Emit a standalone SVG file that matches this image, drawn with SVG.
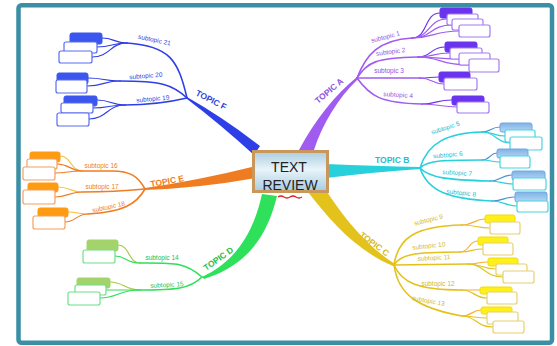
<svg xmlns="http://www.w3.org/2000/svg" width="557" height="346" viewBox="0 0 557 346">
<defs>
<linearGradient id="cg" x1="0" y1="0" x2="0" y2="1">
<stop offset="0" stop-color="#a9cde0"/><stop offset="0.45" stop-color="#e9f4fa"/><stop offset="1" stop-color="#a6cbe0"/>
</linearGradient>
<linearGradient id="bg" x1="0" y1="0" x2="0" y2="1">
<stop offset="0" stop-color="#7fb2e6"/><stop offset="1" stop-color="#b8d8f4"/>
</linearGradient>
</defs>
<style>
.sl{fill:none;stroke-width:1.6;stroke-linecap:round}
.fl{fill:none;stroke-width:1.2;stroke-linecap:round}
.w{fill:#fff;stroke-width:1.2}
.lab{font-family:"Liberation Sans",Arial,sans-serif;font-size:6.5px;text-anchor:middle}
.top{font-family:"Liberation Sans",Arial,sans-serif;font-size:8.5px;font-weight:bold}
.F{stroke:#2f3fe8}.E{stroke:#f07c22}.D{stroke:#2ee05a}.A{stroke:#a05cf0}.B{stroke:#28d0dc}.C{stroke:#e3c21c}
.Fd{stroke:#2a3be0}.Ey{stroke:#f2c03a}.Do{stroke:#a8c84a}.Ad{stroke:#6a34ee}.Bd{stroke:#4a90d0}.Co{stroke:#f5b030}
.tF{fill:#3344dd}.tE{fill:#f07c22}.tD{fill:#22c04a}.tA{fill:#9050e0}.tB{fill:#20c0d0}.tC{fill:#d8b820}
.fF{fill:#3b56ef;stroke:#3b56ef}.fE{fill:#ff9b12;stroke:#ff9b12}.fD{fill:#a3d36b;stroke:#a3d36b}
.fA{fill:#6a34ee;stroke:#6a34ee}.fB{fill:url(#bg);stroke:#6fa8e0}.fC{fill:#fff01a;stroke:#f0dc10}
.wF{stroke:#5a6cf0}.wE{stroke:#f3a060}.wD{stroke:#6fe08a}.wA{stroke:#a47af0}.wB{stroke:#4ad4e0}.wC{stroke:#e8d070}
</style>
<rect x="0" y="0" width="557" height="346" fill="#fff"/>
<rect x="18.5" y="5.2" width="533.5" height="337.5" rx="3" fill="#fff" stroke="#3a8fa4" stroke-width="4.5"/>

<g id="connectors">
<!-- thick topic branches -->
<path d="M187,97 Q224,118 260,146 L254,155 Q220,124 187,99 Z" fill="#2f3fe8"/>
<path d="M145,188 Q200,180 256,166 L256,178 Q200,188 145,190 Z" fill="#f07c22"/>
<path d="M202,277 C230,264 252,240 262,194 L277,196 C266,242 242,267 204,279 Z" fill="#2ee05a"/>
<path d="M357,77 C335,95 315,120 299,150 L314,150 C322,125 338,98 358,79 Z" fill="#a05cf0"/>
<path d="M420,167 Q375,166 326,164 L326,178 Q375,172 420,169 Z" fill="#28d0dc"/>
<path d="M308,192 C330,220 355,250 393,266 L395,264 C365,245 342,215 325,189 Z" fill="#e3c21c"/>
<!-- F subtopics -->
<path class="sl F" d="M187,98 C178,60 170,46 127,43"/>
<path class="sl F" d="M187,98 C172,84 160,81 120,81"/>
<path class="sl F" d="M187,98 C170,102 150,105 125,105"/>
<path class="fl Fd" d="M127,43 C114,43 114,38 102,38"/>
<path class="fl F" d="M127,43 C112,43 112,47 97,47"/>
<path class="fl F" d="M127,43 C110,43 110,57 92,57"/>
<path class="fl Fd" d="M120,81 C104,81 104,78 88,78"/>
<path class="fl F" d="M120,81 C104,81 104,86 87,86"/>
<path class="fl Fd" d="M125,105 C111,105 111,100 97,100"/>
<path class="fl F" d="M125,105 C109,105 109,108 93,108"/>
<path class="fl F" d="M125,105 C107,105 107,119 89,119"/>
<!-- E subtopics -->
<path class="sl E" d="M145,189 C138,176 130,171 112,171 L82,171"/>
<path class="sl E" d="M145,189 C125,191 105,192 82,192"/>
<path class="sl E" d="M145,189 C136,205 122,212 88,214"/>
<path class="fl Ey" d="M82,171 C71,171 71,156 60,156"/>
<path class="fl E" d="M82,171 C70,171 70,164 57,164"/>
<path class="fl E" d="M82,171 C68,171 68,173 55,173"/>
<path class="fl Ey" d="M82,192 C70,192 70,187 58,187"/>
<path class="fl E" d="M82,192 C68,192 68,197 55,197"/>
<path class="fl Ey" d="M88,214 C78,214 78,212 68,212"/>
<path class="fl E" d="M88,214 C76,214 76,222 65,222"/>
<!-- D subtopics -->
<path class="sl D" d="M202,277 C185,262 175,263 140,263"/>
<path class="sl D" d="M202,277 C190,289 175,290 140,290"/>
<path class="fl Do" d="M140,263 C128,263 130,245 118,245"/>
<path class="fl D" d="M140,263 C126,263 126,256 115,256"/>
<path class="fl Do" d="M140,290 C124,290 124,282 110,282"/>
<path class="fl D" d="M140,290 C122,290 122,290 106,290"/>
<path class="fl D" d="M140,290 C118,290 118,298 100,298"/>
<!-- A subtopics -->
<path class="sl A" d="M357,78 C366,55 378,40 412,38"/>
<path class="sl A" d="M357,78 C368,62 375,58 418,57"/>
<path class="sl A" d="M357,78 L420,78"/>
<path class="sl A" d="M357,78 C370,96 380,103 422,104"/>
<path class="fl Ad" d="M412,38 C428,38 424,13 440,13"/>
<path class="fl A" d="M412,38 C430,38 428,19 447,19"/>
<path class="fl A" d="M412,38 C432,38 430,25 452,25"/>
<path class="fl A" d="M412,38 C434,38 434,31 459,31"/>
<path class="fl Ad" d="M418,57 C432,57 430,47 445,47"/>
<path class="fl A" d="M418,57 C434,57 432,53 450,53"/>
<path class="fl A" d="M418,57 C436,57 436,59 459,59"/>
<path class="fl A" d="M418,57 C440,57 440,65 469,65"/>
<path class="fl Ad" d="M420,78 C430,78 430,77 439,77"/>
<path class="fl A" d="M420,78 C432,78 432,84 444,84"/>
<path class="fl Ad" d="M422,104 C436,104 436,100 452,100"/>
<path class="fl A" d="M422,104 C440,104 440,107 457,107"/>
<!-- B subtopics -->
<path class="sl B" d="M420,168 C428,142 448,133 482,132"/>
<path class="sl B" d="M420,168 C428,160 445,160 482,160"/>
<path class="sl B" d="M420,168 C430,178 448,180 490,181"/>
<path class="sl B" d="M420,168 C428,192 450,199 492,201"/>
<path class="fl Bd" d="M482,132 C491,132 491,127 500,127"/>
<path class="fl B" d="M482,132 C494,132 494,136 505,136"/>
<path class="fl B" d="M482,132 C496,132 496,143 510,143"/>
<path class="fl Bd" d="M482,160 C490,160 490,153 497,153"/>
<path class="fl B" d="M482,160 C491,160 491,162 500,162"/>
<path class="fl Bd" d="M490,181 C501,181 501,175 512,175"/>
<path class="fl B" d="M490,181 C502,181 502,184 513,184"/>
<path class="fl Bd" d="M492,201 C504,201 504,197 515,197"/>
<path class="fl B" d="M492,201 C505,201 505,206 517,206"/>
<!-- C subtopics -->
<path class="sl C" d="M394,265 C398,238 415,226 462,225"/>
<path class="sl C" d="M394,265 C400,255 412,252 460,252"/>
<path class="sl C" d="M394,265 L468,264"/>
<path class="sl C" d="M394,265 C402,283 418,290 462,290"/>
<path class="sl C" d="M394,265 C398,295 418,308 462,316"/>
<path class="fl Co" d="M462,225 C474,225 474,219 485,219"/>
<path class="fl C" d="M462,225 C476,225 476,228 490,228"/>
<path class="fl Co" d="M460,252 C470,252 468,241 478,241"/>
<path class="fl C" d="M460,252 C472,252 472,249 483,249"/>
<path class="fl Co" d="M468,264 C478,264 478,262 488,262"/>
<path class="fl C" d="M468,264 C482,264 482,269 496,269"/>
<path class="fl C" d="M468,264 C484,264 484,277 503,277"/>
<path class="fl Co" d="M462,290 C471,290 471,290 480,290"/>
<path class="fl C" d="M462,290 C474,290 474,298 487,298"/>
<path class="fl Co" d="M462,316 C472,316 472,310 481,310"/>
<path class="fl C" d="M462,316 C474,316 474,318 487,318"/>
<path class="fl C" d="M462,316 C476,316 476,327 493,327"/>
</g>

<g id="center">
<rect x="253.5" y="151.5" width="74" height="40" fill="url(#cg)" stroke="#c8975c" stroke-width="3"/>
<text x="289" y="172" font-family="Liberation Sans,Arial,sans-serif" font-size="14" text-anchor="middle" fill="#222">TEXT</text>
<text x="290" y="190" font-family="Liberation Sans,Arial,sans-serif" font-size="14" text-anchor="middle" fill="#222">REVIEW</text>
<path d="M278,197 q3,-2 6,0 t6,0 t6,0 t6,0" fill="none" stroke="#e02020" stroke-width="1.3"/>
</g>

<g id="topic-f"><text class="top tF" transform="translate(195,95) rotate(27)">TOPIC F</text></g>
<g id="topic-e"><text class="top tE" transform="translate(151,187) rotate(-10)">TOPIC E</text></g>
<g id="topic-d"><text class="top tD" transform="translate(206,271) rotate(-35)">TOPIC D</text></g>
<g id="topic-a"><text class="top tA" transform="translate(318,104) rotate(-40)">TOPIC A</text></g>
<g id="topic-b"><text class="top tB" transform="translate(375,163)">TOPIC B</text></g>
<g id="topic-c"><text class="top tC" transform="translate(359,236) rotate(37)">TOPIC C</text></g>

<g id="sub-21"><rect class="fF" x="70" y="33" width="32" height="11" rx="2"/><rect class="w wF" x="64" y="42" width="33" height="11" rx="2"/><rect class="w wF" x="59" y="51" width="33" height="12" rx="2"/><text class="lab tF" transform="translate(154,42) rotate(12)">subtopic 21</text></g>
<g id="sub-20"><rect class="fF" x="57" y="73" width="31" height="11" rx="2"/><rect class="w wF" x="56" y="80" width="31" height="13" rx="2"/><text class="lab tF" transform="translate(146,78) rotate(-4)">subtopic 20</text></g>
<g id="sub-19"><rect class="fF" x="64" y="96" width="33" height="10" rx="2"/><rect class="w wF" x="61" y="103" width="32" height="10" rx="2"/><rect class="w wF" x="57" y="113" width="32" height="13" rx="2"/><text class="lab tF" transform="translate(153,101) rotate(-5)">subtopic 19</text></g>

<g id="sub-16"><rect class="fE" x="30" y="152" width="30" height="10" rx="2"/><rect class="w wE" x="27" y="159" width="30" height="10" rx="2"/><rect class="w wE" x="23" y="167" width="32" height="13" rx="2"/><text class="lab tE" transform="translate(101,168)">subtopic 16</text></g>
<g id="sub-17"><rect class="fE" x="28" y="183" width="30" height="9" rx="2"/><rect class="w wE" x="23" y="190" width="32" height="14" rx="2"/><text class="lab tE" transform="translate(102,189)">subtopic 17</text></g>
<g id="sub-18"><rect class="fE" x="38" y="208" width="30" height="9" rx="2"/><rect class="w wE" x="33" y="216" width="32" height="13" rx="2"/><text class="lab tE" transform="translate(109,209) rotate(-12)">subtopic 18</text></g>

<g id="sub-14"><rect class="fD" x="87" y="240" width="31" height="11" rx="2"/><rect class="w wD" x="83" y="250" width="32" height="13" rx="2"/><text class="lab tD" transform="translate(162,260)">subtopic 14</text></g>
<g id="sub-15"><rect class="fD" x="77" y="278" width="33" height="10" rx="2"/><rect class="w wD" x="75" y="285" width="31" height="10" rx="2"/><rect class="w wD" x="68" y="292" width="32" height="13" rx="2"/><text class="lab tD" transform="translate(167,287) rotate(-3)">subtopic 15</text></g>

<g id="sub-1"><rect class="fA" x="440" y="8" width="32" height="10" rx="2"/><rect class="w wA" x="447" y="14" width="31" height="11" rx="2"/><rect class="w wA" x="452" y="19" width="31" height="11" rx="2"/><rect class="w wA" x="459" y="25" width="31" height="12" rx="2"/><text class="lab tA" transform="translate(386,39) rotate(-15)">subtopic 1</text></g>
<g id="sub-2"><rect class="fA" x="445" y="42" width="32" height="10" rx="2"/><rect class="w wA" x="450" y="48" width="32" height="11" rx="2"/><rect class="w wA" x="459" y="53" width="31" height="12" rx="2"/><rect class="w wA" x="469" y="59" width="30" height="13" rx="2"/><text class="lab tA" transform="translate(391,54) rotate(-8)">subtopic 2</text></g>
<g id="sub-3"><rect class="fA" x="439" y="72" width="31" height="10" rx="2"/><rect class="w wA" x="444" y="78" width="33" height="12" rx="2"/><text class="lab tA" transform="translate(389,73)">subtopic 3</text></g>
<g id="sub-4"><rect class="fA" x="452" y="96" width="32" height="9" rx="2"/><rect class="w wA" x="457" y="102" width="32" height="11" rx="2"/><text class="lab tA" transform="translate(398,97) rotate(4)">subtopic 4</text></g>

<g id="sub-5"><rect class="fB" x="500" y="123" width="32" height="9" rx="2"/><rect class="w wB" x="505" y="130" width="30" height="12" rx="2"/><rect class="w wB" x="510" y="137" width="32" height="13" rx="2"/><text class="lab tB" transform="translate(446,130) rotate(-18)">subtopic 5</text></g>
<g id="sub-6"><rect class="fB" x="497" y="149" width="31" height="9" rx="2"/><rect class="w wB" x="500" y="156" width="30" height="12" rx="2"/><text class="lab tB" transform="translate(448,157) rotate(-5)">subtopic 6</text></g>
<g id="sub-7"><rect class="fB" x="512" y="171" width="33" height="9" rx="2"/><rect class="w wB" x="513" y="178" width="33" height="12" rx="2"/><text class="lab tB" transform="translate(457,175) rotate(4)">subtopic 7</text></g>
<g id="sub-8"><rect class="fB" x="515" y="192" width="32" height="10" rx="2"/><rect class="w wB" x="517" y="201" width="31" height="11" rx="2"/><text class="lab tB" transform="translate(461,195) rotate(6)">subtopic 8</text></g>

<g id="sub-9"><rect class="fC" x="485" y="215" width="30" height="8" rx="2"/><rect class="w wC" x="490" y="222" width="30" height="12" rx="2"/><text class="lab tC" transform="translate(429,222) rotate(-14)">subtopic 9</text></g>
<g id="sub-10"><rect class="fC" x="478" y="237" width="30" height="8" rx="2"/><rect class="w wC" x="483" y="243" width="30" height="12" rx="2"/><text class="lab tC" transform="translate(429,248) rotate(-6)">subtopic 10</text></g>
<g id="sub-11"><rect class="fC" x="488" y="258" width="30" height="8" rx="2"/><rect class="w wC" x="496" y="264" width="31" height="11" rx="2"/><rect class="w wC" x="503" y="271" width="31" height="12" rx="2"/><text class="lab tC" transform="translate(434,260) rotate(-3)">subtopic 11</text></g>
<g id="sub-12"><rect class="fC" x="480" y="287" width="32" height="7" rx="2"/><rect class="w wC" x="487" y="292" width="30" height="12" rx="2"/><text class="lab tC" transform="translate(438,286)">subtopic 12</text></g>
<g id="sub-13"><rect class="fC" x="481" y="307" width="31" height="7" rx="2"/><rect class="w wC" x="487" y="312" width="31" height="12" rx="2"/><rect class="w wC" x="493" y="321" width="31" height="12" rx="2"/><text class="lab tC" transform="translate(428,303) rotate(10)">subtopic 13</text></g>
</svg>
